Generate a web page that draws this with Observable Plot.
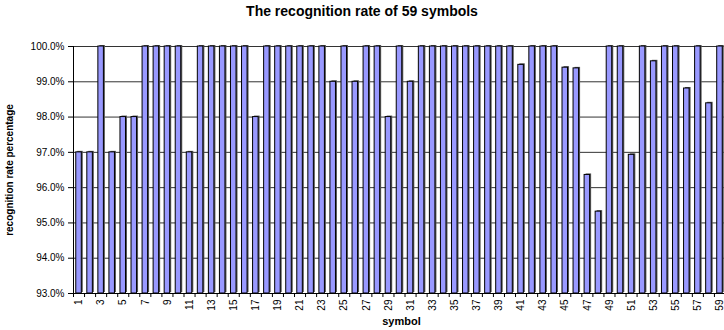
<!DOCTYPE html>
<html><head><meta charset="utf-8">
<script src="https://cdn.jsdelivr.net/npm/d3@7"></script>
<script src="https://cdn.jsdelivr.net/npm/@observablehq/plot@0.6"></script>
<style>
body{margin:0;background:#fff;overflow:hidden;font-family:"Liberation Sans",Arial,sans-serif;}
#title{width:724px;height:30px;text-align:center;font-weight:bold;font-size:14px;line-height:16px;padding-top:3px;box-sizing:border-box;color:#000;}
</style></head><body>
<div id="title">The recognition rate of 59 symbols</div>
<div id="chart"></div>
<script>
const symbols = [1,2,3,4,5,6,7,8,9,10,11,12,13,14,15,16,17,18,19,20,21,22,23,24,25,26,27,28,29,30,31,32,33,34,35,36,37,38,39,40,41,42,43,44,45,46,47,48,49,50,51,52,53,54,55,56,57,58,59];
const rates = [97.0,97.0,100,97.0,98.0,98.0,100,100,100,100,97.0,100,100,100,100,100,98.0,100,100,100,100,100,100,99.0,100,99.0,100,100,98.0,100,99.0,100,100,100,100,100,100,100,100,100,99.48,100,100,100,99.4,99.38,96.36,95.32,100,100,96.93,100,99.58,100,100,98.81,100,98.39,100];
const yTicks = [93,94,95,96,97,98,99,100];
const xTickLabels = [1,3,5,7,9,11,13,15,17,19,21,23,25,27,29,31,33,35,37,39,41,43,45,47,49,51,53,55,57,59];
const xTitle = "symbol";
const yTitle = "recognition rate percentage";

const data = symbols.map((s, i) => ({symbol: s, rate: rates[i]}));
const yMin = yTicks[0], yMax = yTicks[yTicks.length - 1];
const xDomain = [symbols[0] - 0.5, symbols[symbols.length - 1] + 0.5];
const boundaries = symbols.map(s => s - 0.5).concat([xDomain[1]]);

const chart = Plot.plot({
  width: 724,
  height: 300,
  marginLeft: 73,
  marginRight: 0,
  marginTop: 16,
  marginBottom: 37,
  style: {fontFamily: "'Liberation Sans', Arial, sans-serif", fontSize: "10px", background: "white", color: "black"},
  x: {type: "linear", domain: xDomain, range: [73, 725], axis: null},
  y: {domain: [yMin, yMax], axis: null},
  marks: [
    Plot.ruleY(yTicks, {stroke: "#333", strokeWidth: 1}),
    Plot.rectY(data, {x1: d => d.symbol - 0.25, x2: d => d.symbol + 0.25, y1: yMin, y2: "rate", fill: "#555", dx: 1.5, dy: -1}),
    Plot.rectY(data, {x1: d => d.symbol - 0.25, x2: d => d.symbol + 0.25, y1: yMin, y2: "rate", fill: "#9999ff", stroke: "black", strokeWidth: 1}),
    Plot.ruleY([yMin], {stroke: "black"}),
    Plot.ruleX([xDomain[0]], {y1: yMin, y2: yMax, stroke: "black"}),
    Plot.axisY({ticks: yTicks, tickFormat: d => d.toFixed(1) + "%", tickSize: 5, tickPadding: 4, label: null, fontSize: 10}),
    Plot.axisX({ticks: boundaries, tickFormat: () => "", tickSize: 4, label: null}),
    Plot.axisX({ticks: xTickLabels, tickSize: 0, tickPadding: 6, tickRotate: -90, label: null, fontSize: 10}),
    Plot.text([xTitle], {frameAnchor: "bottom", lineAnchor: "middle", textAnchor: "middle", dx: 2.5, dy: 28, fontWeight: "bold", fontSize: 11, fill: "black"}),
    Plot.text([yTitle], {frameAnchor: "left", textAnchor: "middle", lineAnchor: "middle", dx: -63.5, rotate: -90, fontWeight: "bold", fontSize: 10, fill: "black"})
  ]
});
document.getElementById("chart").appendChild(chart);
</script>
</body></html>
